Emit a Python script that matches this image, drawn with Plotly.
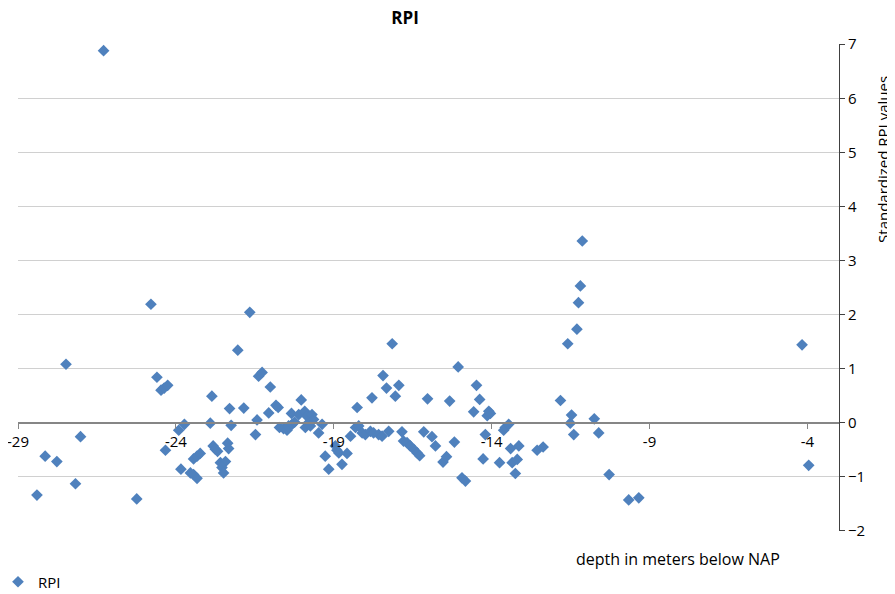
import plotly.graph_objects as go

# depth (m below NAP) and standardized RPI values
depth = [-28.40, -28.14, -27.77, -27.48, -27.18, -27.02, -26.29, -25.24, -24.79, -24.60,
         -24.47, -24.37, -24.26, -24.33, -23.91, -23.73, -23.84, -23.54, -23.44, -23.33,
         -23.44, -23.33, -23.23, -22.91, -22.86, -22.82, -22.75, -22.68, -22.59, -22.43,
         -22.54, -22.49, -22.36, -22.33, -22.30, -22.25, -22.04, -21.85, -21.66, -21.48,
         -21.43, -21.38, -21.27, -21.01, -21.06, -20.83, -20.76, -20.72, -20.59, -20.48,
         -20.43, -20.32, -20.24, -20.34, -20.03, -20.11, -19.92, -19.85, -19.69, -19.80,
         -19.64, -19.90, -19.74, -19.48, -19.37, -19.27, -19.16, -18.95, -18.90, -18.84,
         -18.74, -18.58, -18.47, -18.31, -18.26, -18.21, -18.10, -18.00, -17.84, -17.79,
         -17.74, -17.58, -17.47, -17.44, -17.33, -17.26, -17.15, -17.05, -16.94, -16.84,
         -16.79, -16.68, -16.58, -16.47, -16.36, -16.28, -16.15, -16.03, -15.89, -15.78,
         -15.54, -15.43, -15.33, -15.18, -15.06, -14.94, -14.83, -14.57, -14.48, -14.38,
         -14.27, -14.20, -14.14, -14.09, -14.04, -13.75, -13.62, -13.57, -13.46, -13.40,
         -13.35, -13.25, -13.19, -13.14, -12.56, -12.37, -11.82, -11.59, -11.51, -11.47,
         -11.40, -11.30, -11.25, -11.19, -11.13, -10.75, -10.61, -10.28, -9.66, -9.34,
         -4.17, -3.96]
rpi = [-1.34, -0.62, -0.72, 1.08, -1.13, -0.26, 6.88, -1.41, 2.19, 0.84,
       0.60, 0.64, 0.69, -0.51, -0.14, -0.03, -0.86, -0.93, -0.96, -1.03,
       -0.67, -0.62, -0.57, -0.01, 0.49, -0.43, -0.49, -0.53, -0.74, -0.72,
       -0.83, -0.93, -0.38, -0.48, 0.26, -0.05, 1.34, 0.27, 2.04, -0.22,
       0.05, 0.86, 0.93, 0.66, 0.18, 0.32, 0.28, -0.09, -0.11, -0.14,
       -0.06, -0.03, 0.01, 0.17, 0.42, 0.15, 0.21, 0.12, 0.15, 0.00,
       0.06, -0.09, -0.06, -0.19, -0.03, -0.62, -0.86, -0.43, -0.51, -0.56,
       -0.77, -0.57, -0.25, -0.09, 0.28, -0.06, -0.19, -0.22, -0.16, 0.46,
       -0.19, -0.22, -0.25, 0.87, 0.64, -0.16, 1.46, 0.49, 0.69, -0.17,
       -0.34, -0.37, -0.43, -0.49, -0.56, -0.61, -0.17, 0.44, -0.26, -0.43,
       -0.73, -0.63, 0.40, -0.36, 1.03, -1.02, -1.08, 0.20, 0.69, 0.43,
       -0.67, -0.22, 0.13, 0.21, 0.17, -0.74, -0.14, -0.09, -0.03, -0.48,
       -0.74, -0.94, -0.68, -0.43, -0.51, -0.45, 0.41, 1.46, -0.01, 0.14,
       -0.22, 1.73, 2.22, 2.53, 3.36, 0.07, -0.19, -0.96, -1.43, -1.39,
       1.44, -0.79]

x_ticks = [-29, -24, -19, -14, -9, -4]
y_ticks = [-2, -1, 0, 1, 2, 3, 4, 5, 6, 7]

FONT = "Open Sans"

fig = go.Figure()
fig.add_trace(go.Scatter(
    x=depth, y=rpi, mode="markers", name="RPI",
    marker=dict(symbol="diamond", size=9, color="#4F81BD", line=dict(width=0)),
))

W, H = 887, 586  # page body has an 8px margin
fig.update_layout(
    width=W, height=H,
    margin=dict(l=10, r=56, t=36, b=62.5),
    paper_bgcolor="white", plot_bgcolor="white",
    font=dict(family=FONT, size=15, color="black"),
    title=dict(text="<b>RPI</b>", x=397 / W, xref="container", xanchor="center",
               y=1 - 4 / H, yref="container", yanchor="top",
               font=dict(family=FONT, size=17, color="black")),
    xaxis=dict(range=[-29, -3], tickvals=x_ticks, ticktext=[str(v) for v in x_ticks],
               anchor="free", position=2/9, showgrid=False, zeroline=False,
               automargin=False, ticklabeloverflow="allow",
               showline=True, linecolor="#868686", linewidth=1.5,
               ticks="outside", ticklen=5, tickcolor="#868686",
               tickfont=dict(family=FONT, size=15, color="black")),
    yaxis=dict(range=[-2.004, 7.004], tickvals=y_ticks, side="right", showgrid=True,
               gridcolor="#D0D0D0", gridwidth=1, zeroline=False, automargin=False,
               showline=True, linecolor="#404040", linewidth=1,
               ticks="outside", ticklen=5, tickcolor="#404040",
               tickfont=dict(family=FONT, size=15, color="black")),
    showlegend=True,
    legend=dict(orientation="h", x=0, y=1 - 574 / H, xref="container", yref="container",
                xanchor="left", yanchor="middle", indentation=-10,
                font=dict(family=FONT, size=15, color="black"), bgcolor="rgba(0,0,0,0)"),
    annotations=[
        dict(text="depth in meters below NAP", xref="paper", yref="paper",
             x=0.804, y=-0.058, xanchor="center", yanchor="middle", showarrow=False,
             font=dict(family=FONT, size=16, color="black")),
        dict(text="Standardized RPI values", xref="paper", yref="paper",
             x=1.0536, y=0.762, xanchor="center", yanchor="middle", showarrow=False,
             textangle=-90, font=dict(family=FONT, size=15, color="black")),
    ],
)

fig.write_html("out.html")
